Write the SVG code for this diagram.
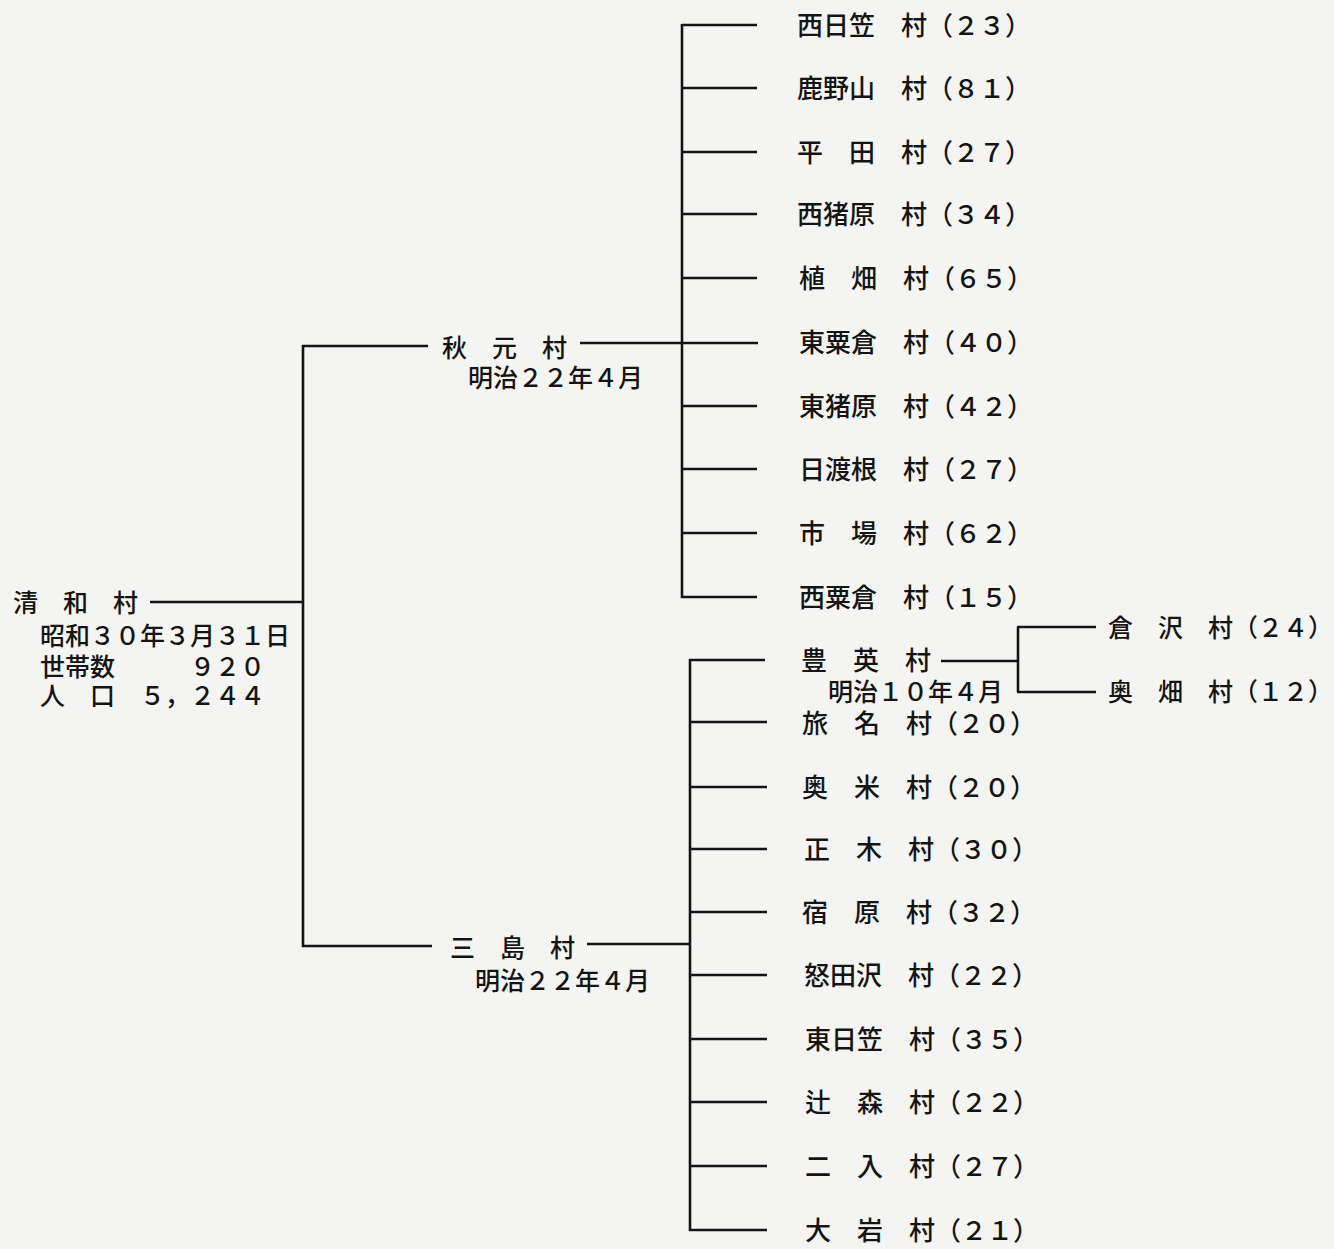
<svg xmlns="http://www.w3.org/2000/svg" width="1334" height="1249" viewBox="0 0 1334 1249">
<style>
.t{font-family:"Noto Sans CJK JP","Noto Sans CJK SC",sans-serif;font-size:26px;font-weight:500;fill:#141414}
.s{font-size:25px}
.c{stroke:#141414;stroke-width:2.6;fill:none}
</style>
<rect x="0" y="0" width="1334" height="1249" fill="#f4f4f2"/>
<g id="connectors" class="c">
<path d="M150 602 H303 M303 345 V947 M302 346 H428 M302 946 H432"/>
<path d="M580 343 H758 M682 24 V598"/>
<path d="M682 25 H757 M682 88 H757 M682 152 H757 M682 214 H757 M682 278 H757 M682 406 H757 M682 469 H757 M682 533 H757 M681 597 H757"/>
<path d="M587 944 H690 M690 659 V1231"/>
<path d="M689 660 H765 M690 722 H767 M690 787 H767 M690 849 H767 M690 912 H767 M690 975 H767 M690 1039 H767 M690 1102 H767 M690 1166 H767 M689 1230 H767"/>
<path d="M941 661 H1018 M1018 627 V692 M1017 627 H1096 M1017 692 H1096"/>
</g>
<g id="seiwa">
<text class="t s" x="13" y="612">清　和　村</text>
<text class="t s" x="40" y="645">昭和３０年３月３１日</text>
<text class="t s" x="40" y="676">世帯数　　　９２０</text>
<text class="t s" x="40" y="705">人　口　５，２４４</text>
</g>
<g id="akimoto">
<text class="t s" x="442" y="357">秋　元　村</text>
<text class="t s" x="468" y="387">明治２２年４月</text>
</g>
<g id="mishima">
<text class="t s" x="450" y="957">三　島　村</text>
<text class="t s" x="475" y="990">明治２２年４月</text>
</g>
<g id="akimoto-villages">
<text class="t" x="797" y="35">西日笠　村（２３）</text>
<text class="t" x="797" y="98">鹿野山　村（８１）</text>
<text class="t" x="797" y="162">平　田　村（２７）</text>
<text class="t" x="797" y="224">西猪原　村（３４）</text>
<text class="t" x="799" y="288">植　畑　村（６５）</text>
<text class="t" x="799" y="352">東粟倉　村（４０）</text>
<text class="t" x="799" y="416">東猪原　村（４２）</text>
<text class="t" x="799" y="479">日渡根　村（２７）</text>
<text class="t" x="799" y="543">市　場　村（６２）</text>
<text class="t" x="799" y="607">西粟倉　村（１５）</text>
</g>
<g id="toyofusa">
<text class="t" x="801" y="670">豊　英　村</text>
<text class="t s" x="828" y="701">明治１０年４月</text>
</g>
<g id="toyofusa-villages">
<text class="t s" x="1108" y="637">倉　沢　村（２４）</text>
<text class="t s" x="1108" y="701">奥　畑　村（１２）</text>
</g>
<g id="mishima-villages">
<text class="t" x="802" y="733">旅　名　村（２０）</text>
<text class="t" x="802" y="797">奥　米　村（２０）</text>
<text class="t" x="804" y="859">正　木　村（３０）</text>
<text class="t" x="802" y="922">宿　原　村（３２）</text>
<text class="t" x="804" y="985">怒田沢　村（２２）</text>
<text class="t" x="805" y="1049">東日笠　村（３５）</text>
<text class="t" x="805" y="1112">辻　森　村（２２）</text>
<text class="t" x="805" y="1176">二　入　村（２７）</text>
<text class="t" x="805" y="1240">大　岩　村（２１）</text>
</g>
</svg>
